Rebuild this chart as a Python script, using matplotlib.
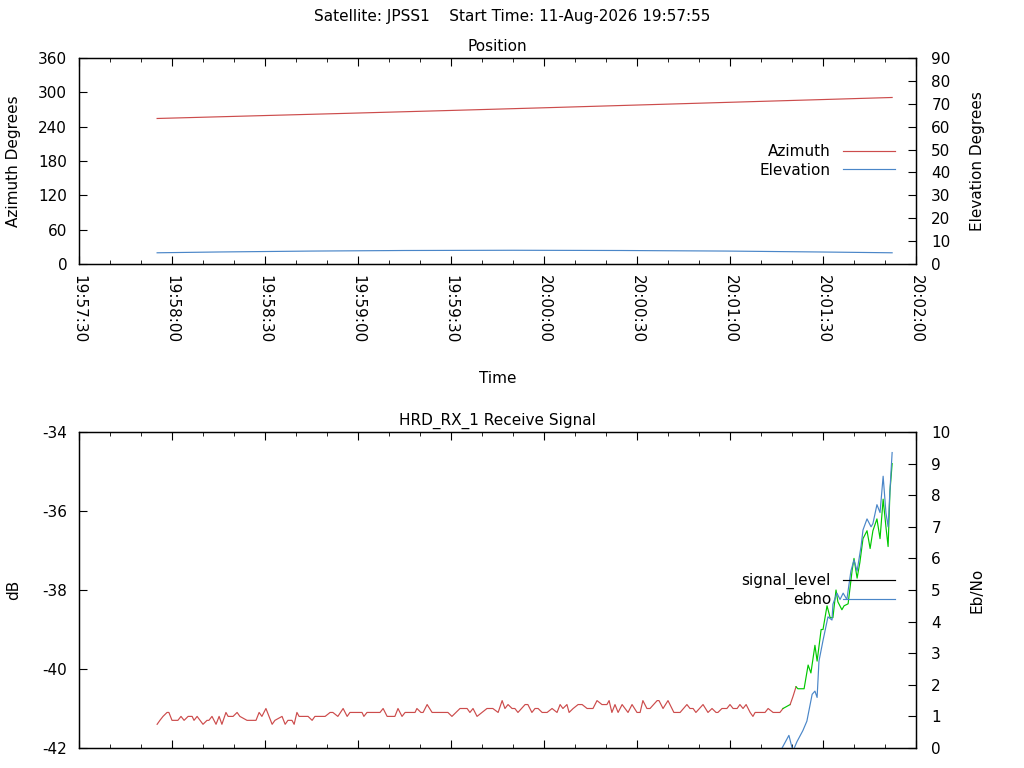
import numpy as np
import matplotlib
matplotlib.use("Agg")
import matplotlib.pyplot as plt
import matplotlib.dates as mdates
from matplotlib.lines import Line2D

plt.rcParams["font.family"] = ["DejaVu Sans"]
plt.rcParams["font.size"] = 11
plt.rcParams["axes.unicode_minus"] = False

# ---- data (seconds after 19:57:30) ----
AXIS_START = np.datetime64("2026-08-11T19:57:30")
AXIS_END = np.datetime64("2026-08-11T20:02:00")
SATELLITE = "JPSS1"
START_TIME = "11-Aug-2026 19:57:55"

pos_t = [25.2, 55.0, 85.0, 119.7, 150.0, 180.0, 210.0, 240.0, 262.3]
azimuth = [254.3, 258.7, 263.1, 268.3, 273.0, 277.8, 282.6, 287.4, 291.0]
elev_t = [25.2, 45.0, 75.0, 105.0, 140.0, 175.0, 209.0, 239.0, 262.3]
elevation = [4.9, 5.25, 5.65, 5.9, 6.0, 5.9, 5.65, 5.25, 4.9]

sig_t = [
    25.2, 26.1, 27.1, 28.4, 29.0, 30.0, 31.9, 32.9, 33.9, 35.2,
    36.5, 37.1, 38.1, 40.0, 41.3, 41.9, 42.9, 44.2, 45.2, 46.1,
    47.4, 48.1, 49.7, 51.0, 51.9, 54.2, 57.1, 58.1, 59.0, 60.3,
    62.3, 63.2, 65.5, 66.5, 67.4, 68.7, 69.4, 70.3, 71.0, 73.9,
    75.2, 76.1, 79.4, 81.0, 81.9, 83.5, 85.2, 86.5, 87.4, 91.3,
    91.9, 92.9, 97.1, 98.1, 99.4, 101.9, 102.9, 104.2, 105.2, 108.4,
    109.0, 110.3, 111.0, 112.3, 113.9, 119.0, 120.3, 122.9, 125.2, 126.1,
    127.1, 128.4, 130.0, 131.6, 133.5, 135.2, 136.5, 137.4, 138.4, 139.7,
    140.6, 141.6, 143.9, 144.8, 146.1, 147.1, 148.1, 149.4, 151.0, 152.6,
    154.2, 155.2, 156.1, 157.4, 158.1, 159.4, 161.0, 162.3, 163.9, 165.8,
    167.1, 168.7, 170.3, 171.0, 171.9, 172.9, 173.9, 175.2, 177.1, 178.4,
    180.0, 181.0, 181.9, 183.2, 184.2, 186.5, 187.1, 188.4, 190.0, 191.9,
    193.9, 196.1, 197.1, 198.1, 199.0, 201.3, 202.9, 204.2, 205.5, 206.1,
    207.4, 209.0, 210.0, 211.0, 212.3, 213.2, 214.2, 215.2, 216.5, 217.4,
    218.1, 221.3, 222.3, 223.9, 226.1, 227.1, 229.4, 230.3, 231.3, 231.9,
    233.9, 235.2, 236.1, 237.4, 238.1, 239.4, 240.0, 241.3, 242.3, 243.2,
    244.2, 244.8, 246.1, 246.8, 248.1, 249.4, 250.0, 251.0, 251.9, 252.9,
    254.2, 255.2, 256.1, 257.4, 258.4, 259.4, 260.3, 261.0, 261.6, 262.3,
]
sig_db = [
    -41.4, -41.3, -41.2, -41.1, -41.1, -41.3, -41.3, -41.2, -41.3, -41.2,
    -41.2, -41.3, -41.2, -41.4, -41.3, -41.3, -41.2, -41.4, -41.2, -41.4,
    -41.1, -41.2, -41.2, -41.1, -41.2, -41.3, -41.3, -41.1, -41.2, -41.0,
    -41.4, -41.3, -41.2, -41.4, -41.3, -41.3, -41.4, -41.1, -41.2, -41.2,
    -41.3, -41.2, -41.2, -41.1, -41.1, -41.2, -41.0, -41.2, -41.1, -41.1,
    -41.2, -41.1, -41.1, -41.0, -41.2, -41.2, -41.0, -41.2, -41.1, -41.1,
    -41.0, -41.1, -41.1, -40.9, -41.1, -41.1, -41.2, -41.0, -41.0, -41.1,
    -41.0, -41.2, -41.1, -41.0, -41.0, -41.1, -40.8, -41.0, -40.9, -41.0,
    -41.0, -41.1, -40.9, -40.9, -41.1, -41.0, -41.0, -41.1, -41.1, -41.0,
    -41.1, -40.9, -41.0, -40.9, -41.1, -41.0, -40.9, -40.9, -41.0, -41.0,
    -40.8, -40.9, -40.9, -40.8, -41.1, -40.9, -41.1, -40.9, -41.1, -40.9,
    -41.1, -41.1, -40.8, -41.0, -41.0, -40.8, -40.8, -41.0, -40.8, -41.1,
    -41.1, -40.9, -41.0, -41.0, -41.1, -40.9, -41.1, -41.0, -41.1, -41.1,
    -41.0, -41.0, -40.9, -41.0, -41.0, -40.9, -41.0, -40.9, -41.1, -41.2,
    -41.1, -41.1, -41.0, -41.1, -41.1, -41.0, -40.9, -40.7, -40.45, -40.5,
    -40.5, -39.9, -40.1, -39.4, -39.8, -39.0, -39.0, -38.4, -38.7, -38.7,
    -38.0, -38.3, -38.5, -38.4, -38.35, -37.5, -37.2, -37.7, -37.3, -36.7,
    -36.5, -36.95, -36.5, -36.2, -36.7, -35.7, -36.4, -36.9, -35.5, -34.8,
]
# spans where the receiver reports lock (drawn green)
lock_spans = [(227.1, 229.4), (231.3, 263.0)]

ebno_t = [
    222.9, 226.8, 229.0, 230.3, 231.6, 233.5, 234.8, 236.5, 237.4, 238.1,
    238.7, 240.0, 241.6, 242.9, 243.2, 244.5, 245.5, 246.5, 247.7, 249.0,
    250.0, 251.0, 252.3, 252.9, 254.2, 255.5, 256.1, 257.4, 258.4, 259.4,
    260.3, 261.0, 261.6, 262.3,
]
ebno = [
    -1.0, 0.0, 0.4, -0.1, 0.2, 0.55, 0.85, 1.7, 1.8, 1.6,
    2.75, 3.4, 4.15, 4.05, 4.55, 4.9, 4.7, 4.9, 4.7, 5.6,
    5.95, 5.6, 6.4, 6.9, 7.25, 7.0, 7.1, 7.7, 7.45, 8.6,
    7.45, 7.0, 8.15, 9.35,
]

RED = "#cc4c4c"
BLUE = "#4a86c8"
GREEN = "#00c800"
LW = 0.85


def to_time(secs):
    return AXIS_START + (np.asarray(secs) * 1000).astype("timedelta64[ms]")


def style_time_axis(ax, labels=True):
    ax.set_xlim(AXIS_START, AXIS_END)
    ax.xaxis.set_major_locator(mdates.SecondLocator(bysecond=[0, 30]))
    ax.xaxis.set_minor_locator(mdates.SecondLocator(bysecond=[10, 20, 40, 50]))
    ax.xaxis.set_major_formatter(mdates.DateFormatter("%H:%M:%S"))
    ax.tick_params(axis="x", which="major", direction="in", length=5.8,
                   top=True, bottom=True, labelrotation=-90, pad=8,
                   labelbottom=labels)
    ax.tick_params(axis="x", which="minor", direction="in", length=2.9,
                   top=True, bottom=True)


fig = plt.figure(figsize=(10.24, 7.68), dpi=100)
fig.text(0.5, 1 - 17 / 768,
         f"Satellite: {SATELLITE}    Start Time: {START_TIME}",
         ha="center", va="center")

# ---- Position panel ----
ax_pos = fig.add_axes([79 / 1024, 1 - 264 / 768, 837 / 1024, 206 / 768])
ax_el = ax_pos.twinx()

ax_pos.plot(to_time(pos_t), azimuth, color=RED, lw=LW)
ax_el.plot(to_time(elev_t), elevation, color=BLUE, lw=LW)

style_time_axis(ax_pos)
ax_pos.set_ylim(0, 360)
ax_pos.set_yticks(range(0, 361, 60))
ax_pos.tick_params(axis="y", direction="in", length=5.8, pad=8.5)
ax_el.set_ylim(0, 90)
ax_el.set_yticks(range(0, 91, 10))
ax_el.tick_params(axis="y", direction="in", length=5.8, pad=11)

ax_pos.set_title("Position", fontsize=11, pad=5)
ax_pos.set_ylabel("Azimuth Degrees")
ax_pos.yaxis.set_label_coords(-0.069, 0.5)
ax_el.set_ylabel("Elevation Degrees")
ax_el.yaxis.set_label_coords(1.064, 0.5)
ax_pos.set_xlabel("Time")
ax_pos.xaxis.set_label_coords(0.5, -0.52)

pos_handles = [Line2D([], [], color=RED, lw=LW), Line2D([], [], color=BLUE, lw=LW)]
ax_el.legend(pos_handles, ["Azimuth", "Elevation"], loc="center right",
             bbox_to_anchor=(0.975, 0.5), frameon=False, markerfirst=False,
             borderpad=0, borderaxespad=0, handlelength=3.4,
             handletextpad=0.8, labelspacing=0.2)

# ---- Receive signal panel ----
ax_sig = fig.add_axes([79 / 1024, 1 - 748 / 768, 837 / 1024, 316 / 768])
ax_eb = ax_sig.twinx()

sig_x = to_time(sig_t)
locked = [any(a <= s < b for a, b in lock_spans) for s in sig_t[:-1]]
start = 0
for i in range(1, len(locked) + 1):
    if i == len(locked) or locked[i] != locked[start]:
        ax_sig.plot(sig_x[start:i + 1], sig_db[start:i + 1],
                    color=GREEN if locked[start] else RED, lw=LW)
        start = i

ax_eb.plot(to_time(ebno_t), ebno, color=BLUE, lw=LW)

style_time_axis(ax_sig, labels=False)
ax_sig.set_ylim(-42, -34)
ax_sig.set_yticks(range(-42, -33, 2))
ax_sig.tick_params(axis="y", direction="in", length=5.8, pad=8.5)
ax_eb.set_ylim(0, 10)
ax_eb.set_yticks(range(0, 11))
ax_eb.tick_params(axis="y", direction="in", length=5.8, pad=11)

ax_sig.set_title("HRD_RX_1 Receive Signal", fontsize=11, pad=5)
ax_sig.set_ylabel("dB")
ax_sig.yaxis.set_label_coords(-0.069, 0.5)
ax_eb.set_ylabel("Eb/No")
ax_eb.yaxis.set_label_coords(1.064, 0.5)

sig_handles = [Line2D([], [], color="black", lw=LW), Line2D([], [], color=BLUE, lw=LW)]
ax_eb.legend(sig_handles, ["signal_level", "ebno"], loc="center right",
             bbox_to_anchor=(0.975, 0.5), frameon=False, markerfirst=False,
             borderpad=0, borderaxespad=0, handlelength=3.4,
             handletextpad=0.8, labelspacing=0.2)

for a in (ax_pos, ax_el, ax_sig, ax_eb):
    for sp in a.spines.values():
        sp.set_linewidth(0.9)

fig.savefig("out.png", dpi=100, facecolor="white")
